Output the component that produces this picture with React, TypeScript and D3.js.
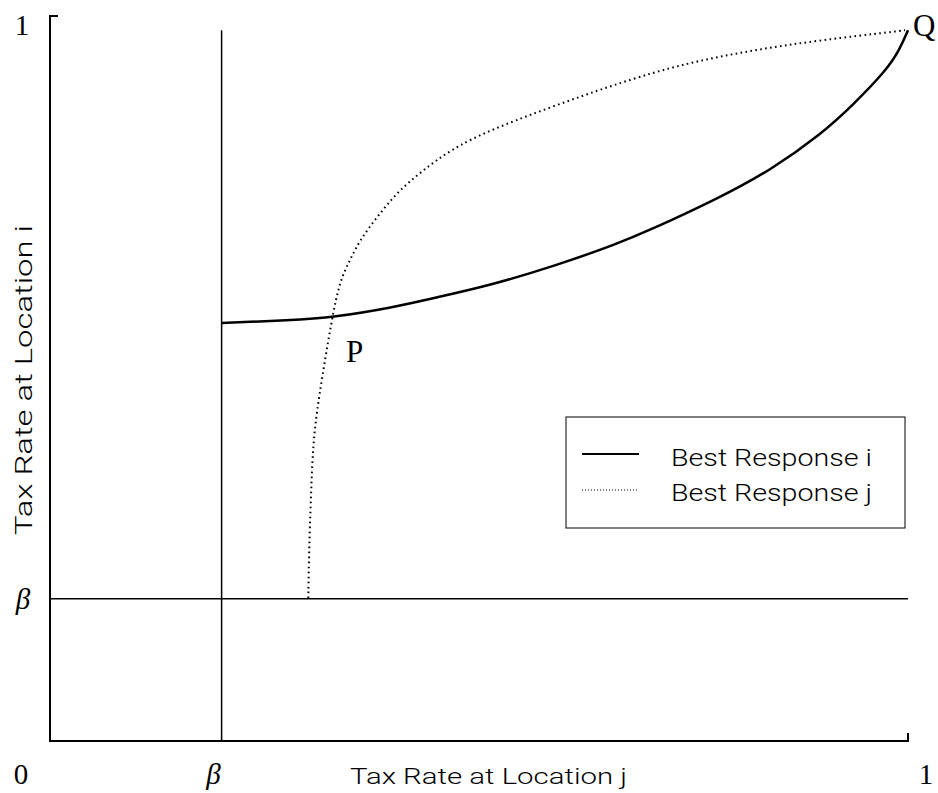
import * as d3 from 'd3';

// best response of location i (solid)
const respIx = [0.2, 0.28, 0.33, 0.4, 0.45, 0.51, 0.59, 0.66, 0.7, 0.78, 0.84, 0.9, 0.936, 0.975, 0.99, 1.0];
const respIy = [0.588, 0.592, 0.596, 0.61, 0.624, 0.64, 0.669, 0.699, 0.719, 0.764, 0.803, 0.855, 0.895, 0.944, 0.972, 1.0];

// best response of location j (dotted)
const respJx = [0.301, 0.302, 0.304, 0.3065, 0.3124, 0.3287, 0.338, 0.3497, 0.3613, 0.3811, 0.4044, 0.4347, 0.4662, 0.5128, 0.664, 0.7424, 0.8193, 0.8974, 0.9883, 0.9965];
const respJy = [0.201, 0.269, 0.339, 0.419, 0.477, 0.596, 0.648, 0.677, 0.705, 0.737, 0.772, 0.803, 0.831, 0.861, 0.927, 0.954, 0.972, 0.986, 0.9986, 1.0];

const beta = 0.2;
const legendLabels = ['Best Response i', 'Best Response j'];

const W = 938;
const H = 793;

const serif = '"Liberation Serif", "DejaVu Serif", serif';
const sans = 'Roboto, "DejaVu Sans", sans-serif';

export default function App() {
  const x = d3.scaleLinear().domain([0, 1]).range([50, 908]);
  const y = d3.scaleLinear().domain([0, 1.02]).range([741, 16]);

  // basis smooths out the small reading errors in the points
  const line = d3.line<[number, number]>()
    .x(d => x(d[0]))
    .y(d => y(d[1]))
    .curve(d3.curveBasis);

  const iPts = respIx.map((v, k) => [v, respIy[k]] as [number, number]);
  const jPts = respJx.map((v, k) => [v, respJy[k]] as [number, number]);

  const lg = { x: 566, y: 417, w: 339, h: 111 };

  return (
    <svg width={W} height={H} style={{ position: 'absolute', left: 0, top: 0, background: '#fff' }}>
      {/* axes frame */}
      <path d={`M${x(0) + 8},${y(1.02)} H${x(0)} V${y(0)} H${x(1)} V${y(0) - 8}`}
        fill="none" stroke="#000" strokeWidth={2} />

      {/* beta reference lines */}
      <line x1={x(beta)} x2={x(beta)} y1={y(1)} y2={y(0)} stroke="#000" strokeWidth={1.5} />
      <line x1={x(0)} x2={x(1)} y1={y(beta)} y2={y(beta)} stroke="#000" strokeWidth={1.5} />

      {/* curves */}
      <path d={line(iPts) || ''} fill="none" stroke="#000" strokeWidth={2.5} />
      <path d={line(jPts) || ''} fill="none" stroke="#000" strokeWidth={2} strokeDasharray="1.6 3.4" />

      {/* tick labels */}
      <g fontFamily={serif} fontSize={29} fill="#000" textAnchor="middle">
        <text x={x(0) - 29} y={y(0) + 43}>0</text>
        <text x={x(beta) - 8} y={y(0) + 43} fontStyle="italic">β</text>
        <text x={x(1) + 18} y={y(0) + 43}>1</text>
        <text x={x(0) - 28} y={y(1) + 5}>1</text>
        <text x={x(0) - 27} y={y(beta) + 10} fontStyle="italic">β</text>
      </g>
      <g fontFamily={serif} fontSize={31} fill="#000">
        <text x={346} y={362}>P</text>
        <text x={913} y={36}>Q</text>
      </g>

      {/* axis titles */}
      <text x={350} y={784} fontFamily={sans} fontWeight={300} fontSize={22}
        textLength={277} lengthAdjust="spacingAndGlyphs">Tax Rate at Location j</text>
      <text transform="translate(32,535) rotate(-90)" fontFamily={sans} fontWeight={300} fontSize={23}
        textLength={310} lengthAdjust="spacingAndGlyphs">Tax Rate at Location i</text>

      {/* legend */}
      <rect x={lg.x} y={lg.y} width={lg.w} height={lg.h} fill="none" stroke="#000" strokeWidth={1} />
      <line x1={582} x2={639} y1={454} y2={454} stroke="#000" strokeWidth={2} />
      <line x1={582} x2={639} y1={490} y2={490} stroke="#000" strokeWidth={1} strokeDasharray="1 2" />
      {legendLabels.map((t, k) => (
        <text key={t} x={671} y={466 + k * 35} fontFamily={sans} fontWeight={300} fontSize={24}
          textLength={201} lengthAdjust="spacingAndGlyphs">{t}</text>
      ))}
    </svg>
  );
}
